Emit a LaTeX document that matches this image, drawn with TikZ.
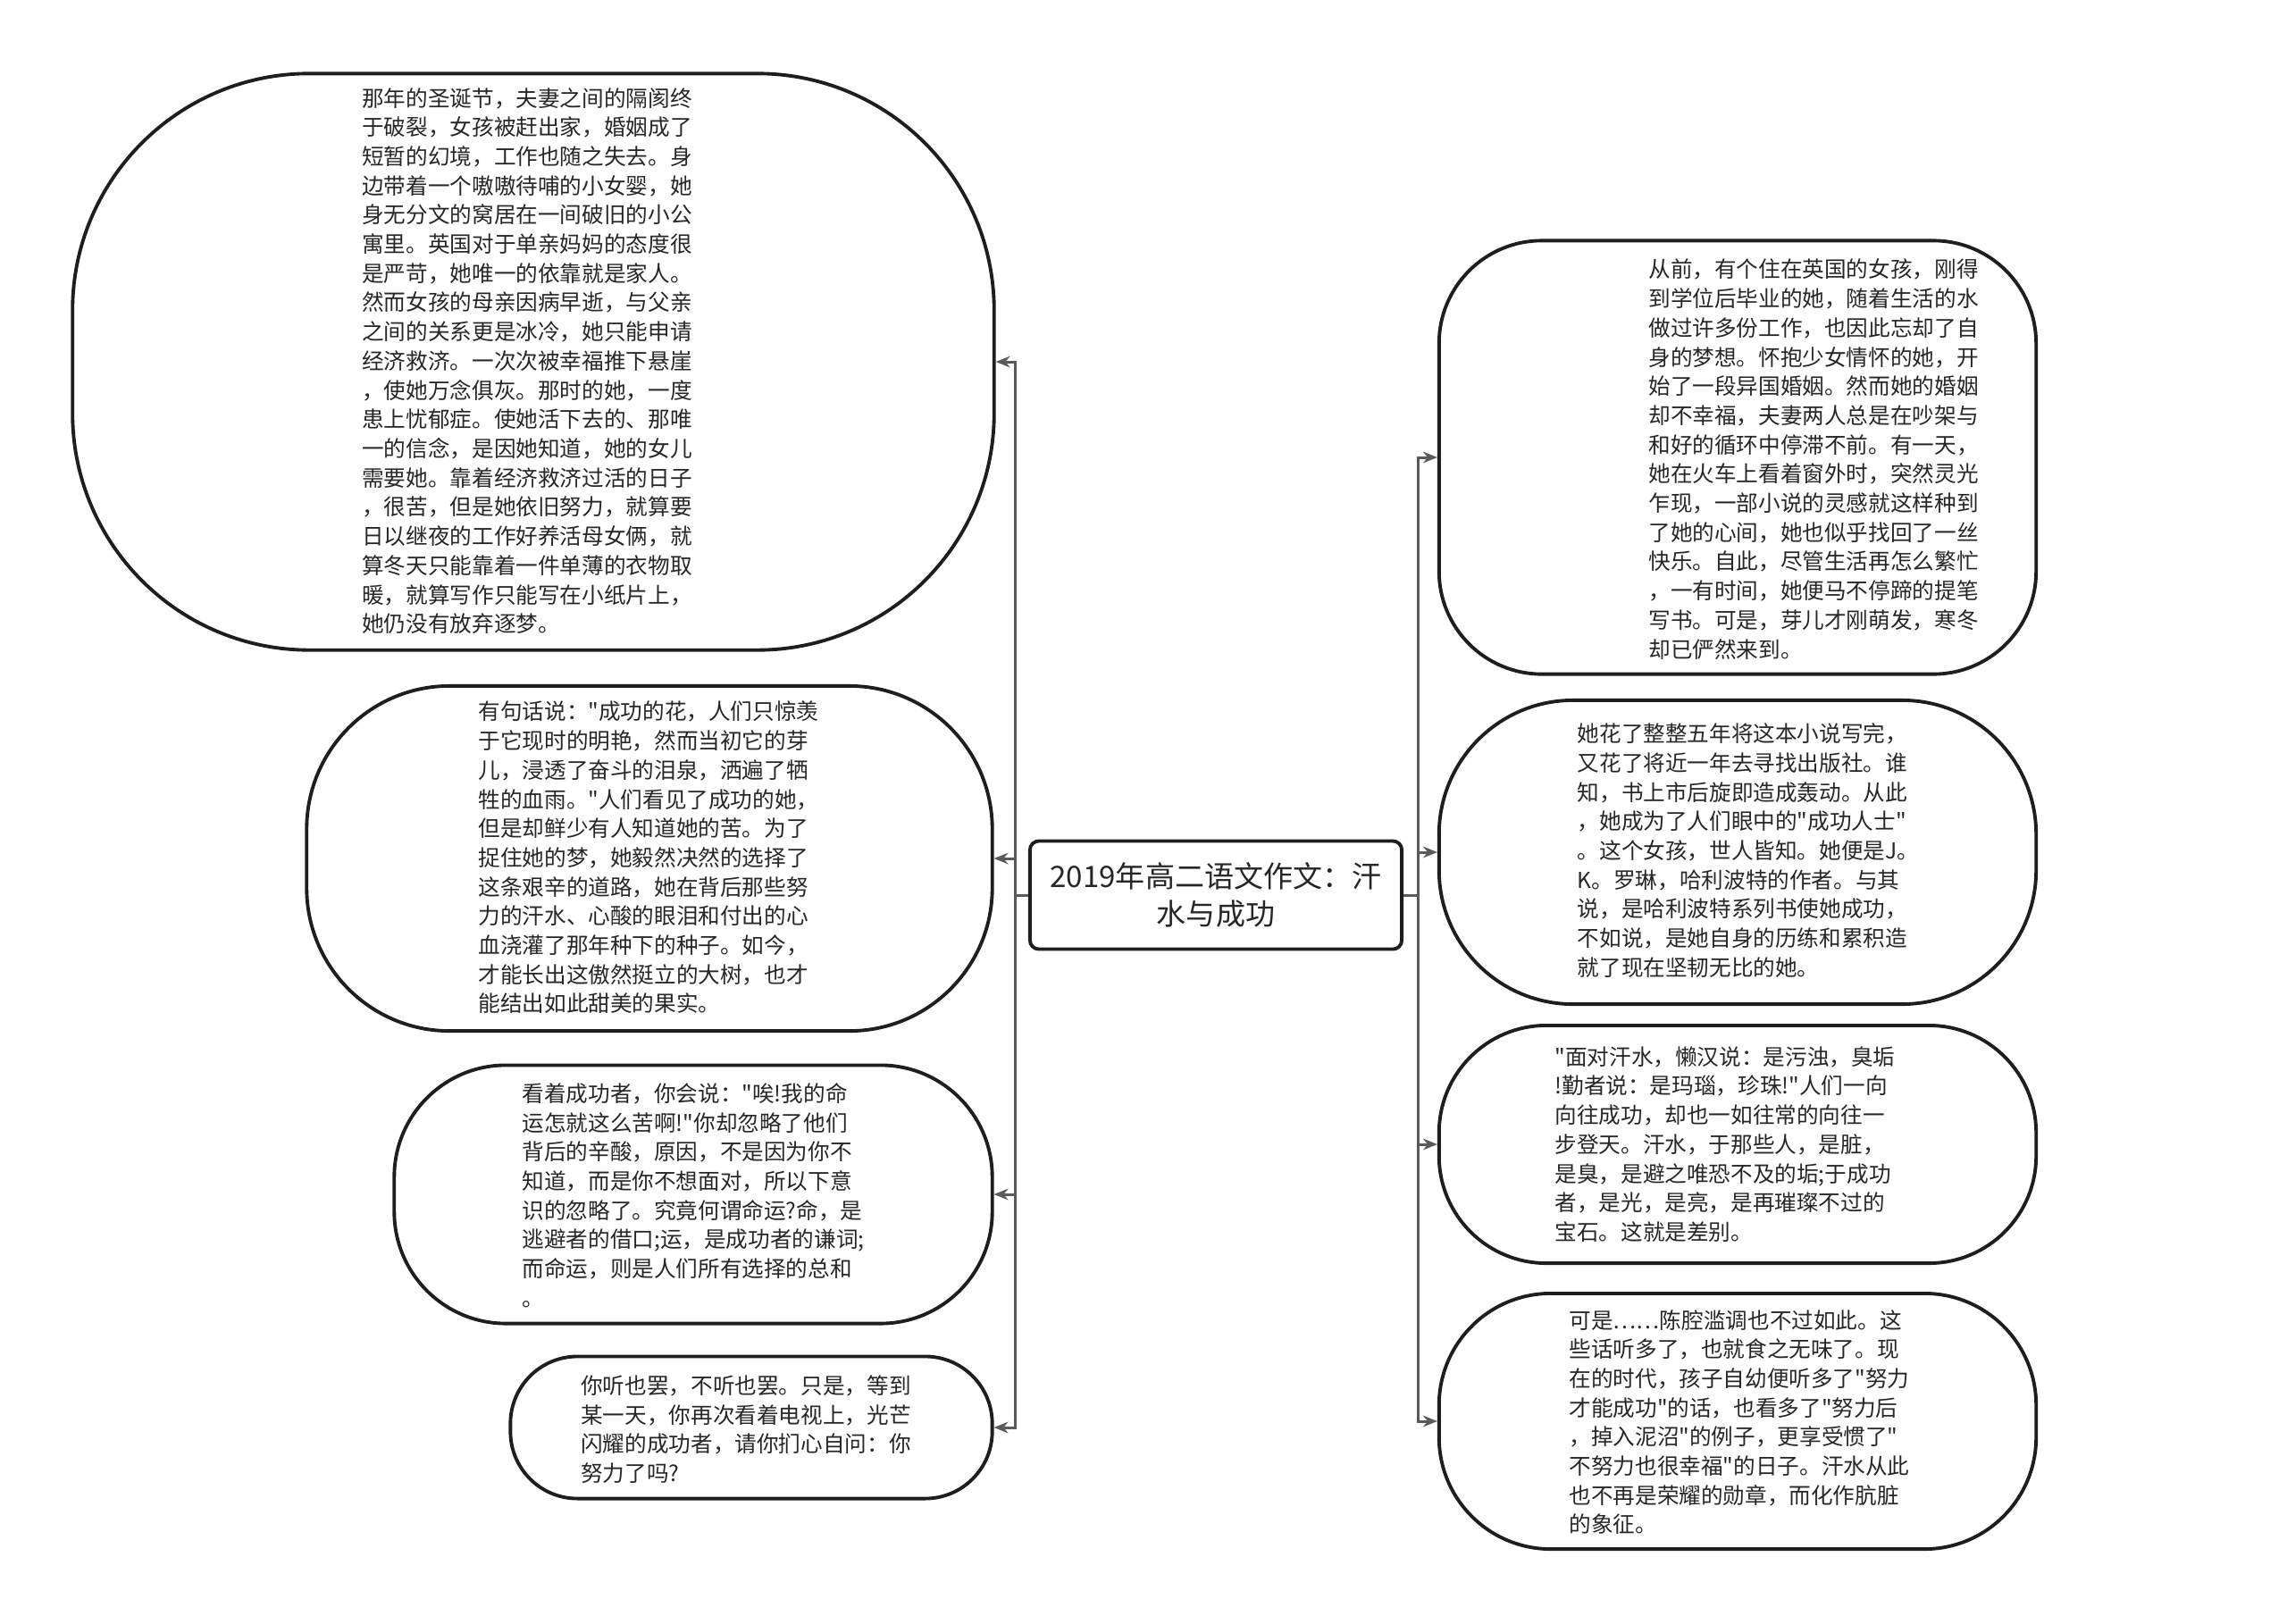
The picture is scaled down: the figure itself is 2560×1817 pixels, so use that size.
\documentclass[tikz,border=0pt]{standalone}
\usepackage{fontspec}
\usepackage{tikz}
\usetikzlibrary{arrows.meta}
\newfontfamily\cjk{Noto Sans CJK SC}
\definecolor{ink}{HTML}{1E1E1E}
\definecolor{ink2}{HTML}{262626}
\definecolor{wire}{HTML}{5A5A5A}

\begin{document}
\begin{tikzpicture}[x=0.01cm,y=-0.01cm,
  every node/.style={font=\cjk\fontsize{7}{9.3}\selectfont,text=ink2},
  bubble/.style n args={3}{draw=ink,line width=1.1pt,minimum width=#1,minimum height=#2,rounded corners=#3,inner sep=0pt},
  para/.style={align=left,inner sep=0pt},
  link/.style={wire,line width=0.85pt,-{Stealth[length=4.5pt,width=3.6pt]}}]
  \useasboundingbox (0,0) rectangle (2560,1817);
  % central topic
  \node[draw=ink,line width=1.1pt,rounded corners=0.1cm,minimum width=4.16cm,minimum height=1.21cm,
    align=center,font=\cjk\fontsize{9.4}{12.1}\selectfont] (root) at (1361,1002) {2019年高二语文作文：汗\\水与成功};
  % left branch
  \node[bubble={10.31cm}{6.45cm}{2.65cm}] (l1) at (597,405) {};
  \node[para] (l1txt) at (590,404) {那年的圣诞节，夫妻之间的隔阂终\\于破裂，女孩被赶出家，婚姻成了\\短暂的幻境，工作也随之失去。身\\边带着一个嗷嗷待哺的小女婴，她\\身无分文的窝居在一间破旧的小公\\寓里。英国对于单亲妈妈的态度很\\是严苛，她唯一的依靠就是家人。\\然而女孩的母亲因病早逝，与父亲\\之间的关系更是冰冷，她只能申请\\经济救济。一次次被幸福推下悬崖\\，使她万念俱灰。那时的她，一度\\患上忧郁症。使她活下去的、那唯\\一的信念，是因她知道，她的女儿\\需要她。靠着经济救济过活的日子\\，很苦，但是她依旧努力，就算要\\日以继夜的工作好养活母女俩，就\\算冬天只能靠着一件单薄的衣物取\\暖，就算写作只能写在小纸片上，\\她仍没有放弃逐梦。};
  \node[bubble={7.67cm}{3.86cm}{1.6cm}] (l2) at (727,961) {};
  \node[para] (l2txt) at (726,960) {有句话说："成功的花，人们只惊羡\\于它现时的明艳，然而当初它的芽\\儿，浸透了奋斗的泪泉，洒遍了牺\\牲的血雨。"人们看见了成功的她，\\但是却鲜少有人知道她的苦。为了\\捉住她的梦，她毅然决然的选择了\\这条艰辛的道路，她在背后那些努\\力的汗水、心酸的眼泪和付出的心\\血浇灌了那年种下的种子。如今，\\才能长出这傲然挺立的大树，也才\\能结出如此甜美的果实。};
  \node[bubble={6.69cm}{2.89cm}{1.25cm}] (l3) at (776,1337) {};
  \node[para] (l3txt) at (776,1338) {看着成功者，你会说："唉!我的命\\运怎就这么苦啊!"你却忽略了他们\\背后的辛酸，原因，不是因为你不\\知道，而是你不想面对，所以下意\\识的忽略了。究竟何谓命运?命，是\\逃避者的借口;运，是成功者的谦词;\\而命运，则是人们所有选择的总和\\。};
  \node[bubble={5.39cm}{1.59cm}{0.75cm}] (l4) at (841,1598) {};
  \node[para] (l4txt) at (835,1600) {你听也罢，不听也罢。只是，等到\\某一天，你再次看着电视上，光芒\\闪耀的成功者，请你扪心自问：你\\努力了吗?};
  % right branch
  \node[bubble={6.68cm}{4.85cm}{1.15cm}] (r1) at (1945,512) {};
  \node[para] (r1txt) at (2030,514) {从前，有个住在英国的女孩，刚得\\到学位后毕业的她，随着生活的水\\做过许多份工作，也因此忘却了自\\身的梦想。怀抱少女情怀的她，开\\始了一段异国婚姻。然而她的婚姻\\却不幸福，夫妻两人总是在吵架与\\和好的循环中停滞不前。有一天，\\她在火车上看着窗外时，突然灵光\\乍现，一部小说的灵感就这样种到\\了她的心间，她也似乎找回了一丝\\快乐。自此，尽管生活再怎么繁忙\\，一有时间，她便马不停蹄的提笔\\写书。可是，芽儿才刚萌发，寒冬\\却已俨然来到。};
  \node[bubble={6.68cm}{3.4cm}{1.5cm}] (r2) at (1945,954) {};
  \node[para] (r2txt) at (1957,952) {她花了整整五年将这本小说写完，\\又花了将近一年去寻找出版社。谁\\知，书上市后旋即造成轰动。从此\\，她成为了人们眼中的"成功人士"\\。这个女孩，世人皆知。她便是J。\\K。罗琳，哈利波特的作者。与其\\说，是哈利波特系列书使她成功，\\不如说，是她自身的历练和累积造\\就了现在坚韧无比的她。};
  \node[bubble={6.68cm}{2.66cm}{1.2cm}] (r3) at (1945,1281) {};
  \node[para] (r3txt) at (1931,1281) {"面对汗水，懒汉说：是污浊，臭垢\\!勤者说：是玛瑙，珍珠!"人们一向\\向往成功，却也一如往常的向往一\\步登天。汗水，于那些人，是脏，\\是臭，是避之唯恐不及的垢;于成功\\者，是光，是亮，是再璀璨不过的\\宝石。这就是差别。};
  \node[bubble={6.68cm}{2.86cm}{1.25cm}] (r4) at (1945,1591) {};
  \node[para] (r4txt) at (1947,1592) {可是……陈腔滥调也不过如此。这\\些话听多了，也就食之无味了。现\\在的时代，孩子自幼便听多了"努力\\才能成功"的话，也看多了"努力后\\，掉入泥沼"的例子，更享受惯了"\\不努力也很幸福"的日子。汗水从此\\也不再是荣耀的勋章，而化作肮脏\\的象征。};
  % connectors
  \foreach \n in {l1,l2,l3,l4}
    \draw[link] (root.west) -- ++(-14,0) |- (\n.east);
  \foreach \n in {r1,r2,r3,r4}
    \draw[link] (root.east) -- ++(16,0) |- (\n.west);
\end{tikzpicture}
\end{document}
